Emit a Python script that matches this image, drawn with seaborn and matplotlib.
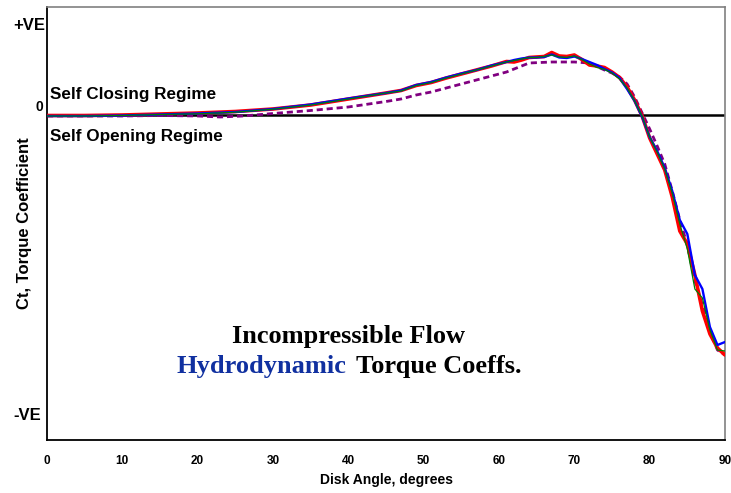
import matplotlib
matplotlib.use("Agg")
import matplotlib.pyplot as plt
import seaborn as sns
import pandas as pd

# ---- data (y in arbitrary units, 0 = neutral torque) ----
angles = [0, 5, 10, 15, 20, 25, 30, 35, 40, 45, 47, 49, 51, 53, 55, 57, 59, 61, 62, 63,
          64, 65, 66, 67, 68, 69, 70, 71, 72, 73, 74, 75, 76, 77, 78, 79, 80, 81, 82, 83,
          84, 85, 86, 87, 88, 89, 90]
blue_ct = [-0.1, -0.1, -0.05, 0.05, 0.15, 0.3, 0.6, 1.05, 1.65, 2.2, 2.45, 3.0, 3.3, 3.75,
           4.15, 4.5, 4.95, 5.3, 5.5, 5.65, 5.75, 5.75, 5.8, 6.05, 5.75, 5.7, 5.85, 5.6, 5.3,
           5.0, 4.6, 4.25, 3.7, 2.6, 1.4, -0.2, -2.2, -3.6, -5.3, -7.6, -10.5, -11.9, -16.0,
           -17.4, -21.2, -23.0, -22.7]
red_ct = [-0.05, -0.05, 0.0, 0.1, 0.2, 0.35, 0.6, 1.0, 1.6, 2.2, 2.45, 2.95, 3.25, 3.7,
          4.1, 4.5, 4.9, 5.35, 5.3, 5.5, 5.75, 5.8, 5.85, 6.25, 5.9, 5.85, 6.0, 5.55, 5.0,
          4.9, 4.75, 4.3, 3.75, 2.8, 1.5, -0.1, -2.3, -3.9, -5.5, -8.2, -11.6, -12.9, -16.0,
          -19.6, -21.9, -23.3, -24.0]
green_ct = [-0.1, -0.1, -0.05, 0.05, 0.12, 0.28, 0.58, 1.0, 1.6, 2.2, 2.4, 2.95, 3.25, 3.7,
            4.1, 4.5, 4.9, 5.3, 5.45, 5.6, 5.75, 5.75, 5.85, 6.0, 5.8, 5.75, 5.9, 5.55, 5.1,
            4.75, 4.55, 4.2, 3.6, 2.7, 1.4, -0.15, -2.2, -3.7, -5.4, -7.8, -10.9, -13.4,
            -17.4, -18.3, -21.5, -23.5, -23.6]
purple_angles = [0, 5, 10, 15, 20, 23, 26, 30, 35, 40, 45, 47, 49, 51, 54, 57, 60, 61, 63,
                 64, 67, 70, 72, 74, 75, 76, 77, 78, 79, 80, 81, 82, 83, 84, 85, 86, 87, 88,
                 89, 90]
purple_ct = [-0.1, -0.1, -0.1, -0.05, -0.1, -0.2, -0.1, 0.15, 0.45, 0.8, 1.35, 1.6, 2.0,
             2.3, 2.9, 3.5, 4.1, 4.3, 4.9, 5.2, 5.3, 5.3, 5.2, 4.5, 4.2, 3.8, 3.1, 1.8, 0.2,
             -1.4, -3.1, -4.9, -7.6, -10.5, -13.0, -16.6, -19.0, -21.6, -23.5, -24.0]
x_ticks = [0, 10, 20, 30, 40, 50, 60, 70, 80, 90]
y_labels = ["+VE", "0", "-VE"]

sns.set_style("white")
plt.rcParams["font.family"] = ["Liberation Sans", "DejaVu Sans"]
plt.rcParams["text.color"] = "black"
plt.rcParams["axes.labelcolor"] = "black"
plt.rcParams["xtick.color"] = "black"
plt.rcParams["ytick.color"] = "black"

fig = plt.figure(figsize=(7.31, 4.93), dpi=100)
ax = fig.add_axes([47 / 731, 1 - 440 / 493, (725 - 47) / 731, (440 - 7) / 493])

df_main = pd.DataFrame({"angle": angles, "red": red_ct, "blue": blue_ct, "green": green_ct})
df_p = pd.DataFrame({"angle": purple_angles, "ct": purple_ct})

ax.axhline(0, color="black", lw=1.8, zorder=1)
sns.lineplot(data=df_p, x="angle", y="ct", ax=ax, color="#800080", lw=2.0,
             linestyle=(0, (2.2, 1.4)), zorder=2)
sns.lineplot(data=df_main, x="angle", y="red", ax=ax, color="#FF0000", lw=2.6, zorder=3)
sns.lineplot(data=df_main, x="angle", y="blue", ax=ax, color="#0000FF", lw=1.7, zorder=4)
sns.lineplot(data=df_main, x="angle", y="green", ax=ax, color="#008000", lw=0.9, zorder=5)

ax.set_xlim(0, 90)
ax.set_ylim(-32.5, 10.8)
ax.set_xticks(x_ticks)
ax.set_xticklabels([str(t) for t in x_ticks], fontsize=8.5, fontweight="bold")
ax.tick_params(axis="x", direction="inout", length=6, width=1.2, pad=8, colors="black")
ax.set_yticks([0])
ax.set_yticklabels([""])
ax.tick_params(axis="y", direction="out", length=10, width=1.8, colors="black")

for side in ["left", "bottom"]:
    ax.spines[side].set_color("black")
    ax.spines[side].set_linewidth(1.3)
for side in ["top", "right"]:
    ax.spines[side].set_color("#808080")
    ax.spines[side].set_linewidth(1.2)

ax.set_xlabel("Disk Angle, degrees", fontsize=10, fontweight="bold")
ax.xaxis.set_label_coords(0.5, -33 / 433)
ax.set_ylabel("Ct, Torque Coefficient", fontsize=12, fontweight="bold")
ax.yaxis.set_label_coords(-15 / 678, 0.5)

# y side labels
trans = ax.get_yaxis_transform()
ax.text(-0.003, 8.9, y_labels[0], transform=trans, ha="right", va="center",
        fontsize=12, fontweight="bold")
ax.text(-0.006, 0.8, y_labels[1], transform=trans, ha="right", va="center",
        fontsize=10, fontweight="bold")
ax.text(-0.008, -30.0, y_labels[2], transform=trans, ha="right", va="center",
        fontsize=12, fontweight="bold")

ax.text(0.4, 2.0, "Self Closing Regime", ha="left", va="center", fontsize=12.3, fontweight="bold")
ax.text(0.4, -2.2, "Self Opening Regime", ha="left", va="center", fontsize=12.3, fontweight="bold")

serif = ["Liberation Serif", "DejaVu Serif"]
fig.text(348 / 731, 1 - 336 / 493, "Incompressible Flow", ha="center", va="center",
         fontsize=19, fontweight="bold", family=serif, color="black")
fig.text(346 / 731, 1 - 367 / 493, "Hydrodynamic", ha="right", va="center",
         fontsize=19, fontweight="bold", family=serif, color="#1030A0")
fig.text(356 / 731, 1 - 367 / 493, "Torque Coeffs.", ha="left", va="center",
         fontsize=19, fontweight="bold", family=serif, color="black")

fig.savefig("out.png", dpi=100)
